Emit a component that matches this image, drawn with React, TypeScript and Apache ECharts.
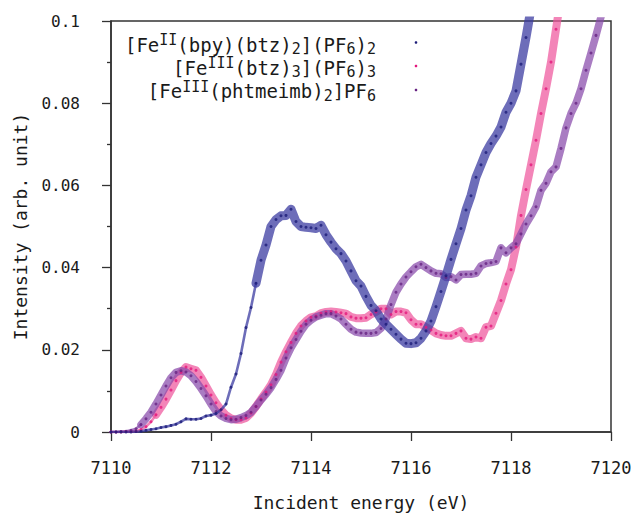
import React, { useEffect, useRef } from "react";
import * as echarts from "echarts";

// energy grid (eV) of the measurements
const E_START = 7110;
const E_STEP = 0.1;

// [Fe(II)(bpy)(btz)2](PF6)2  (7110.0 ... 7118.5)
const blueValues = [
  0, 0, 0, 0, 0, 0.0001, 0.0002, 0.0004, 0.0006, 0.0008,
  0.0011, 0.0013, 0.0016, 0.0019, 0.0025, 0.0032, 0.0031, 0.0031, 0.0033, 0.0039,
  0.0041, 0.0045, 0.0054, 0.0068, 0.0109, 0.0141, 0.0191, 0.0254, 0.0303, 0.0362,
  0.0418, 0.0455, 0.05, 0.0517, 0.0526, 0.0527, 0.0542, 0.0512, 0.05, 0.0498,
  0.0497, 0.0495, 0.0503, 0.048, 0.0462, 0.0446, 0.0434, 0.0416, 0.0392, 0.0368,
  0.0355, 0.033, 0.0308, 0.0295, 0.0275, 0.0262, 0.025, 0.0238, 0.0226, 0.0216,
  0.0215, 0.0217, 0.0228, 0.0246, 0.027, 0.0305, 0.0342, 0.038, 0.042, 0.0458,
  0.0495, 0.054, 0.0575, 0.062, 0.065, 0.068, 0.0702, 0.072, 0.0742, 0.0778,
  0.08, 0.083, 0.0895, 0.096, 0.103, 0.11,
];

// [Fe(III)(btz)3](PF6)3  (7110.0 ... 7119.0)
const pinkValues = [
  0, 0, 0, 0.0001, 0.0001, 0.0002, 0.0006, 0.0013, 0.0025, 0.0042,
  0.006, 0.008, 0.0102, 0.0125, 0.0145, 0.0158, 0.0154, 0.015, 0.0133, 0.0112,
  0.009, 0.0071, 0.0054, 0.0041, 0.0033, 0.003, 0.003, 0.0034, 0.0046, 0.0062,
  0.008, 0.0097, 0.0115, 0.014, 0.017, 0.0195, 0.0218, 0.024, 0.0258, 0.027,
  0.0279, 0.0282, 0.0289, 0.0292, 0.0293, 0.0292, 0.029, 0.0288, 0.028, 0.0277,
  0.0277, 0.0278, 0.0286, 0.0292, 0.03, 0.03, 0.0286, 0.0293, 0.0293, 0.029,
  0.0273, 0.0262, 0.0262, 0.0255, 0.0248, 0.024, 0.0236, 0.0234, 0.0234, 0.024,
  0.0246, 0.0228, 0.0226, 0.0231, 0.0228, 0.0255, 0.0258, 0.0289, 0.032, 0.036,
  0.0395, 0.045, 0.0527, 0.059, 0.065, 0.071, 0.0775, 0.0835, 0.09, 0.098,
  0.106,
];

// [Fe(III)(phtmeimb)2]PF6  (7110.0 ... 7119.9)
const purpleValues = [
  0, 0, 0.0001, 0.0002, 0.0004, 0.0008, 0.0018, 0.0032, 0.0048, 0.0068,
  0.009, 0.0112, 0.0132, 0.0145, 0.0149, 0.0146, 0.0137, 0.0123, 0.0106, 0.0088,
  0.0068, 0.005, 0.0039, 0.0033, 0.003, 0.0031, 0.0035, 0.004, 0.0048, 0.0062,
  0.0078, 0.0092, 0.0108, 0.0128, 0.015, 0.018, 0.0205, 0.0225, 0.0245, 0.0262,
  0.0272, 0.028, 0.0284, 0.0288, 0.0288, 0.0282, 0.0275, 0.0262, 0.025, 0.0243,
  0.0241, 0.024, 0.024, 0.0242, 0.0252, 0.0275, 0.031, 0.034, 0.036, 0.0377,
  0.039, 0.0402, 0.0408, 0.04, 0.0392, 0.0386, 0.0385, 0.0376, 0.0378, 0.037,
  0.0383, 0.0384, 0.0384, 0.0386, 0.0404, 0.041, 0.0412, 0.0415, 0.0448, 0.0436,
  0.0448, 0.0458, 0.0482, 0.0506, 0.0526, 0.0548, 0.0588, 0.0605, 0.0633, 0.0645,
  0.069, 0.074, 0.0775, 0.08, 0.0835, 0.088, 0.0922, 0.0965, 0.101, 0.105,
];

const seriesNames = [
  "[Fe(II)(bpy)(btz)2](PF6)2",
  "[Fe(III)(btz)3](PF6)3",
  "[Fe(III)(phtmeimb)2]PF6",
];

// legend labels with super-/subscripts (rich text)
const legendLabels = [
  "{n|[Fe}{sup|II}{n|(bpy)(btz)}{sub|2}{n|](PF}{sub|6}{n|)}{sub|2}",
  "{n|[Fe}{sup|III}{n|(btz)}{sub|3}{n|](PF}{sub|6}{n|)}{sub|3}",
  "{n|[Fe}{sup|III}{n|(phtmeimb)}{sub|2}{n|]PF}{sub|6}",
];

const FONT = "'DejaVu Sans Mono', 'Liberation Mono', monospace";

const styles = [
  { band: "rgba(58,58,160,0.74)", dot: "#1c1c78", thinUntil: 29, width: 9 },
  { band: "rgba(238,86,156,0.72)", dot: "#e3177c", thinUntil: 9, width: 8 },
  { band: "rgba(136,74,170,0.72)", dot: "#672382", thinUntil: 6, width: 7.5 },
];

const allValues = [blueValues, pinkValues, purpleValues];

function toPairs(vals: number[]) {
  return vals.map((v, i) => [+(E_START + i * E_STEP).toFixed(1), v]);
}

export default function App() {
  const ref = useRef<HTMLDivElement>(null);

  useEffect(() => {
    if (!ref.current) return;
    const chart = echarts.init(ref.current, undefined, { renderer: "svg" });

    const series: any[] = [];
    const order = [1, 2, 0];
    order.forEach((k) => {
      const pairs = toPairs(allValues[k]);
      const st = styles[k];
      series.push({
        type: "line",
        name: seriesNames[k] + " thin",
        data: pairs.slice(0, st.thinUntil + 1),
        symbol: "none",
        silent: true,
        z: 2,
        lineStyle: { color: st.band, width: 2.6, join: "round", cap: "round" },
      });
      series.push({
        type: "line",
        name: seriesNames[k] + " band",
        data: pairs.slice(st.thinUntil),
        symbol: "none",
        silent: true,
        z: 2,
        lineStyle: { color: st.band, width: st.width, join: "round", cap: "round" },
      });
    });
    order.forEach((k) => {
      series.push({
        type: "scatter",
        name: seriesNames[k],
        data: toPairs(allValues[k]),
        symbol: "circle",
        symbolSize: 3,
        silent: true,
        z: 5,
        itemStyle: { color: styles[k].dot },
      });
    });

    const rich = {
      n: { fontSize: 19, lineHeight: 24, fontFamily: FONT, fill: "#1a1a1a", color: "#1a1a1a" },
      sup: { fontSize: 15, lineHeight: 20, verticalAlign: "top", fontFamily: FONT, fill: "#1a1a1a", color: "#1a1a1a" },
      sub: { fontSize: 15, lineHeight: 11, verticalAlign: "bottom", fontFamily: FONT, fill: "#1a1a1a", color: "#1a1a1a" },
    };
    const legendY = [44.5, 67.5, 91];
    const dotY = [42.5, 66, 90];
    const graphic: any[] = [];
    legendLabels.forEach((t, i) => {
      graphic.push({
        type: "text",
        x: 376,
        y: legendY[i],
        silent: true,
        style: {
          text: t,
          rich,
          align: "right",
          verticalAlign: "middle",
          fill: "#1a1a1a",
          fontFamily: FONT,
          fontSize: 19,
        },
      });
      graphic.push({
        type: "circle",
        shape: { cx: 416, cy: dotY[i], r: 1.3 },
        silent: true,
        style: { fill: styles[i].dot },
      });
    });

    chart.setOption({
      animation: false,
      backgroundColor: "#ffffff",
      grid: {
        left: 111,
        right: 29,
        top: 21,
        bottom: 82,
        show: true,
        borderColor: "#333",
        borderWidth: 1.5,
        containLabel: false,
        outerBoundsMode: "none",
      },
      xAxis: {
        type: "value",
        min: 7110,
        max: 7120,
        interval: 2,
        name: "Incident energy (eV)",
        nameLocation: "middle",
        nameGap: 70,
        nameTextStyle: { fontSize: 18, fontFamily: FONT, color: "#1a1a1a", verticalAlign: "middle" },
        axisLine: { show: true, lineStyle: { color: "#333", width: 1.5 } },
        axisTick: { show: true, inside: false, length: 9, lineStyle: { color: "#333", width: 1.3 } },
        axisLabel: {
          fontSize: 17,
          fontFamily: FONT,
          color: "#1a1a1a",
          margin: 27,
          formatter: (v: number) => String(v),
        },
        splitLine: { show: false },
      },
      yAxis: {
        type: "value",
        min: 0,
        max: 0.1,
        interval: 0.02,
        name: "Intensity (arb. unit)",
        nameLocation: "middle",
        nameGap: 91,
        nameTextStyle: { fontSize: 18, fontFamily: FONT, color: "#1a1a1a", verticalAlign: "middle" },
        axisLine: { show: true, lineStyle: { color: "#333", width: 1.5 } },
        axisTick: { show: true, inside: false, length: 9, lineStyle: { color: "#333", width: 1.3 } },
        minorTick: { show: true, splitNumber: 2, length: 4, lineStyle: { color: "#333", width: 1.3 } },
        axisLabel: {
          fontSize: 16,
          fontFamily: FONT,
          color: "#1a1a1a",
          margin: 31,
          formatter: (v: number) => String(+v.toFixed(2)),
        },
        splitLine: { show: false },
        minorSplitLine: { show: false },
      },
      series,
      graphic,
    });

    return () => chart.dispose();
  }, []);

  return (
    <div
      ref={ref}
      style={{ position: "fixed", left: 0, top: 0, width: 640, height: 514, background: "#fff" }}
    />
  );
}
